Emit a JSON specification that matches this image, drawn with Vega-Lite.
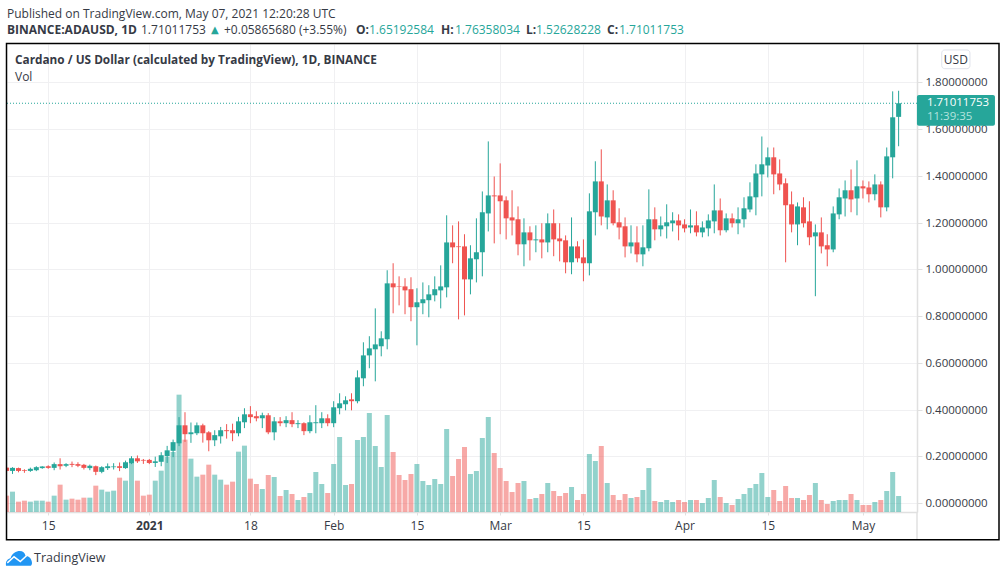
{
  "$schema": "https://vega.github.io/schema/vega-lite/v6.json",
  "autosize": {"type": "none"},
  "padding": {"left": 7, "top": 44, "right": 89, "bottom": 65},
  "width": 910,
  "height": 468,
  "background": "#ffffff",
  "title": {"text": "Published on TradingView.com, May 07, 2021 12:20:28 UTC", "anchor": "start", "frame": "group", "offset": 3, "fontSize": 12, "fontWeight": "normal", "font": "Open Sans", "color": "#363a45"},
  "datasets": {
    "candles": [
      {"date":"2020-12-08","open":0.152,"high":0.155,"low":0.135,"close":0.138,"vol":49},
      {"date":"2020-12-09","open":0.138,"high":0.154,"low":0.125,"close":0.151,"vol":61},
      {"date":"2020-12-10","open":0.150,"high":0.152,"low":0.132,"close":0.138,"vol":31},
      {"date":"2020-12-11","open":0.141,"high":0.145,"low":0.130,"close":0.138,"vol":34},
      {"date":"2020-12-12","open":0.138,"high":0.152,"low":0.134,"close":0.147,"vol":31},
      {"date":"2020-12-13","open":0.141,"high":0.158,"low":0.137,"close":0.154,"vol":34},
      {"date":"2020-12-14","open":0.150,"high":0.158,"low":0.147,"close":0.157,"vol":34},
      {"date":"2020-12-15","open":0.158,"high":0.162,"low":0.147,"close":0.151,"vol":31},
      {"date":"2020-12-16","open":0.151,"high":0.174,"low":0.141,"close":0.167,"vol":49},
      {"date":"2020-12-17","open":0.167,"high":0.192,"low":0.144,"close":0.158,"vol":82},
      {"date":"2020-12-18","open":0.160,"high":0.171,"low":0.154,"close":0.167,"vol":37},
      {"date":"2020-12-19","open":0.168,"high":0.178,"low":0.154,"close":0.164,"vol":40},
      {"date":"2020-12-20","open":0.167,"high":0.175,"low":0.154,"close":0.160,"vol":37},
      {"date":"2020-12-21","open":0.164,"high":0.168,"low":0.144,"close":0.151,"vol":43},
      {"date":"2020-12-22","open":0.150,"high":0.165,"low":0.141,"close":0.160,"vol":43},
      {"date":"2020-12-23","open":0.158,"high":0.161,"low":0.120,"close":0.134,"vol":79},
      {"date":"2020-12-24","open":0.134,"high":0.158,"low":0.128,"close":0.154,"vol":67},
      {"date":"2020-12-25","open":0.150,"high":0.170,"low":0.142,"close":0.158,"vol":61},
      {"date":"2020-12-26","open":0.154,"high":0.171,"low":0.144,"close":0.157,"vol":64},
      {"date":"2020-12-27","open":0.158,"high":0.174,"low":0.137,"close":0.151,"vol":103},
      {"date":"2020-12-28","open":0.150,"high":0.182,"low":0.147,"close":0.175,"vol":94},
      {"date":"2020-12-29","open":0.171,"high":0.201,"low":0.167,"close":0.192,"vol":147},
      {"date":"2020-12-30","open":0.192,"high":0.204,"low":0.172,"close":0.179,"vol":94},
      {"date":"2020-12-31","open":0.185,"high":0.189,"low":0.168,"close":0.182,"vol":49},
      {"date":"2021-01-01","open":0.185,"high":0.189,"low":0.167,"close":0.172,"vol":52},
      {"date":"2021-01-02","open":0.172,"high":0.199,"low":0.155,"close":0.179,"vol":94},
      {"date":"2021-01-03","open":0.177,"high":0.218,"low":0.158,"close":0.205,"vol":124},
      {"date":"2021-01-04","open":0.201,"high":0.245,"low":0.172,"close":0.226,"vol":165},
      {"date":"2021-01-05","open":0.224,"high":0.272,"low":0.197,"close":0.261,"vol":180},
      {"date":"2021-01-06","open":0.256,"high":0.368,"low":0.244,"close":0.333,"vol":352},
      {"date":"2021-01-07","open":0.333,"high":0.389,"low":0.262,"close":0.295,"vol":217},
      {"date":"2021-01-08","open":0.295,"high":0.345,"low":0.258,"close":0.303,"vol":160},
      {"date":"2021-01-09","open":0.299,"high":0.345,"low":0.291,"close":0.333,"vol":106},
      {"date":"2021-01-10","open":0.333,"high":0.340,"low":0.259,"close":0.299,"vol":112},
      {"date":"2021-01-11","open":0.303,"high":0.308,"low":0.222,"close":0.269,"vol":142},
      {"date":"2021-01-12","open":0.269,"high":0.312,"low":0.244,"close":0.291,"vol":112},
      {"date":"2021-01-13","open":0.286,"high":0.326,"low":0.255,"close":0.312,"vol":97},
      {"date":"2021-01-14","open":0.312,"high":0.338,"low":0.276,"close":0.308,"vol":82},
      {"date":"2021-01-15","open":0.312,"high":0.340,"low":0.265,"close":0.299,"vol":91},
      {"date":"2021-01-16","open":0.299,"high":0.369,"low":0.286,"close":0.350,"vol":181},
      {"date":"2021-01-17","open":0.346,"high":0.406,"low":0.321,"close":0.380,"vol":199},
      {"date":"2021-01-18","open":0.380,"high":0.415,"low":0.342,"close":0.368,"vol":100},
      {"date":"2021-01-19","open":0.372,"high":0.393,"low":0.350,"close":0.363,"vol":84},
      {"date":"2021-01-20","open":0.363,"high":0.387,"low":0.321,"close":0.376,"vol":69},
      {"date":"2021-01-21","open":0.376,"high":0.385,"low":0.295,"close":0.303,"vol":111},
      {"date":"2021-01-22","open":0.303,"high":0.368,"low":0.269,"close":0.350,"vol":105},
      {"date":"2021-01-23","open":0.350,"high":0.368,"low":0.329,"close":0.342,"vol":48},
      {"date":"2021-01-24","open":0.342,"high":0.372,"low":0.325,"close":0.355,"vol":66},
      {"date":"2021-01-25","open":0.355,"high":0.389,"low":0.325,"close":0.338,"vol":54},
      {"date":"2021-01-26","open":0.338,"high":0.355,"low":0.321,"close":0.342,"vol":36},
      {"date":"2021-01-27","open":0.342,"high":0.346,"low":0.291,"close":0.308,"vol":45},
      {"date":"2021-01-28","open":0.308,"high":0.376,"low":0.299,"close":0.346,"vol":57},
      {"date":"2021-01-29","open":0.342,"high":0.419,"low":0.299,"close":0.346,"vol":120},
      {"date":"2021-01-30","open":0.342,"high":0.389,"low":0.321,"close":0.363,"vol":84},
      {"date":"2021-01-31","open":0.363,"high":0.380,"low":0.329,"close":0.342,"vol":57},
      {"date":"2021-02-01","open":0.342,"high":0.436,"low":0.325,"close":0.410,"vol":144},
      {"date":"2021-02-02","open":0.406,"high":0.470,"low":0.380,"close":0.427,"vol":225},
      {"date":"2021-02-03","open":0.423,"high":0.457,"low":0.397,"close":0.440,"vol":81},
      {"date":"2021-02-04","open":0.444,"high":0.470,"low":0.397,"close":0.436,"vol":84},
      {"date":"2021-02-05","open":0.436,"high":0.568,"low":0.427,"close":0.538,"vol":216},
      {"date":"2021-02-06","open":0.534,"high":0.688,"low":0.500,"close":0.632,"vol":225},
      {"date":"2021-02-07","open":0.632,"high":0.714,"low":0.577,"close":0.662,"vol":297},
      {"date":"2021-02-08","open":0.658,"high":0.833,"low":0.521,"close":0.679,"vol":198},
      {"date":"2021-02-09","open":0.671,"high":0.735,"low":0.628,"close":0.705,"vol":135},
      {"date":"2021-02-10","open":0.701,"high":0.996,"low":0.658,"close":0.940,"vol":291},
      {"date":"2021-02-11","open":0.940,"high":1.026,"low":0.812,"close":0.923,"vol":180},
      {"date":"2021-02-12","open":0.927,"high":0.970,"low":0.846,"close":0.925,"vol":111},
      {"date":"2021-02-13","open":0.927,"high":0.962,"low":0.808,"close":0.910,"vol":96},
      {"date":"2021-02-14","open":0.915,"high":0.966,"low":0.778,"close":0.838,"vol":114},
      {"date":"2021-02-15","open":0.838,"high":0.919,"low":0.675,"close":0.859,"vol":144},
      {"date":"2021-02-16","open":0.855,"high":0.944,"low":0.808,"close":0.872,"vol":93},
      {"date":"2021-02-17","open":0.868,"high":0.932,"low":0.795,"close":0.893,"vol":81},
      {"date":"2021-02-18","open":0.889,"high":0.970,"low":0.863,"close":0.915,"vol":99},
      {"date":"2021-02-19","open":0.910,"high":1.017,"low":0.833,"close":0.927,"vol":84},
      {"date":"2021-02-20","open":0.923,"high":1.231,"low":0.880,"close":1.115,"vol":249},
      {"date":"2021-02-21","open":1.115,"high":1.188,"low":1.026,"close":1.094,"vol":108},
      {"date":"2021-02-22","open":1.098,"high":1.205,"low":0.786,"close":1.095,"vol":159},
      {"date":"2021-02-23","open":1.098,"high":1.150,"low":0.803,"close":0.957,"vol":195},
      {"date":"2021-02-24","open":0.957,"high":1.103,"low":0.893,"close":1.047,"vol":114},
      {"date":"2021-02-25","open":1.043,"high":1.218,"low":0.944,"close":1.073,"vol":123},
      {"date":"2021-02-26","open":1.073,"high":1.333,"low":0.970,"close":1.244,"vol":222},
      {"date":"2021-02-27","open":1.239,"high":1.547,"low":1.162,"close":1.316,"vol":285},
      {"date":"2021-02-28","open":1.316,"high":1.397,"low":1.111,"close":1.312,"vol":177},
      {"date":"2021-03-01","open":1.316,"high":1.453,"low":1.150,"close":1.291,"vol":132},
      {"date":"2021-03-02","open":1.295,"high":1.312,"low":1.128,"close":1.218,"vol":93},
      {"date":"2021-03-03","open":1.222,"high":1.338,"low":1.145,"close":1.209,"vol":60},
      {"date":"2021-03-04","open":1.214,"high":1.269,"low":1.060,"close":1.107,"vol":87},
      {"date":"2021-03-05","open":1.107,"high":1.218,"low":1.013,"close":1.158,"vol":93},
      {"date":"2021-03-06","open":1.158,"high":1.184,"low":1.038,"close":1.124,"vol":39},
      {"date":"2021-03-07","open":1.124,"high":1.188,"low":1.073,"close":1.128,"vol":42},
      {"date":"2021-03-08","open":1.128,"high":1.197,"low":1.047,"close":1.115,"vol":54},
      {"date":"2021-03-09","open":1.115,"high":1.239,"low":1.073,"close":1.197,"vol":87},
      {"date":"2021-03-10","open":1.197,"high":1.256,"low":1.056,"close":1.128,"vol":63},
      {"date":"2021-03-11","open":1.132,"high":1.197,"low":1.034,"close":1.120,"vol":48},
      {"date":"2021-03-12","open":1.124,"high":1.145,"low":0.983,"close":1.030,"vol":57},
      {"date":"2021-03-13","open":1.030,"high":1.222,"low":0.979,"close":1.098,"vol":75},
      {"date":"2021-03-14","open":1.098,"high":1.120,"low":1.030,"close":1.047,"vol":36},
      {"date":"2021-03-15","open":1.051,"high":1.128,"low":0.949,"close":1.026,"vol":54},
      {"date":"2021-03-16","open":1.026,"high":1.325,"low":0.974,"close":1.248,"vol":174},
      {"date":"2021-03-17","open":1.244,"high":1.462,"low":1.145,"close":1.376,"vol":153},
      {"date":"2021-03-18","open":1.376,"high":1.513,"low":1.188,"close":1.226,"vol":198},
      {"date":"2021-03-19","open":1.222,"high":1.363,"low":1.171,"close":1.295,"vol":87},
      {"date":"2021-03-20","open":1.295,"high":1.338,"low":1.188,"close":1.197,"vol":51},
      {"date":"2021-03-21","open":1.201,"high":1.261,"low":1.128,"close":1.179,"vol":36},
      {"date":"2021-03-22","open":1.184,"high":1.222,"low":1.051,"close":1.098,"vol":54},
      {"date":"2021-03-23","open":1.098,"high":1.188,"low":1.068,"close":1.115,"vol":42},
      {"date":"2021-03-24","open":1.115,"high":1.184,"low":1.030,"close":1.064,"vol":45},
      {"date":"2021-03-25","open":1.064,"high":1.188,"low":1.013,"close":1.094,"vol":66},
      {"date":"2021-03-26","open":1.090,"high":1.342,"low":1.077,"close":1.214,"vol":132},
      {"date":"2021-03-27","open":1.214,"high":1.265,"low":1.124,"close":1.171,"vol":33},
      {"date":"2021-03-28","open":1.171,"high":1.226,"low":1.141,"close":1.188,"vol":30},
      {"date":"2021-03-29","open":1.184,"high":1.278,"low":1.132,"close":1.201,"vol":36},
      {"date":"2021-03-30","open":1.197,"high":1.244,"low":1.162,"close":1.209,"vol":30},
      {"date":"2021-03-31","open":1.209,"high":1.235,"low":1.124,"close":1.188,"vol":36},
      {"date":"2021-04-01","open":1.192,"high":1.214,"low":1.158,"close":1.175,"vol":30},
      {"date":"2021-04-02","open":1.179,"high":1.256,"low":1.154,"close":1.188,"vol":36},
      {"date":"2021-04-03","open":1.188,"high":1.248,"low":1.141,"close":1.158,"vol":36},
      {"date":"2021-04-04","open":1.158,"high":1.205,"low":1.137,"close":1.179,"vol":27},
      {"date":"2021-04-05","open":1.175,"high":1.235,"low":1.141,"close":1.209,"vol":42},
      {"date":"2021-04-06","open":1.205,"high":1.363,"low":1.154,"close":1.252,"vol":96},
      {"date":"2021-04-07","open":1.252,"high":1.303,"low":1.145,"close":1.167,"vol":45},
      {"date":"2021-04-08","open":1.167,"high":1.239,"low":1.158,"close":1.218,"vol":27},
      {"date":"2021-04-09","open":1.218,"high":1.239,"low":1.179,"close":1.197,"vol":21},
      {"date":"2021-04-10","open":1.197,"high":1.265,"low":1.150,"close":1.214,"vol":39},
      {"date":"2021-04-11","open":1.214,"high":1.308,"low":1.179,"close":1.261,"vol":54},
      {"date":"2021-04-12","open":1.256,"high":1.372,"low":1.244,"close":1.312,"vol":72},
      {"date":"2021-04-13","open":1.308,"high":1.449,"low":1.231,"close":1.410,"vol":84},
      {"date":"2021-04-14","open":1.406,"high":1.568,"low":1.312,"close":1.449,"vol":117},
      {"date":"2021-04-15","open":1.444,"high":1.521,"low":1.393,"close":1.479,"vol":45},
      {"date":"2021-04-16","open":1.479,"high":1.521,"low":1.321,"close":1.406,"vol":66},
      {"date":"2021-04-17","open":1.410,"high":1.470,"low":1.338,"close":1.363,"vol":33},
      {"date":"2021-04-18","open":1.368,"high":1.389,"low":1.030,"close":1.274,"vol":78},
      {"date":"2021-04-19","open":1.278,"high":1.333,"low":1.158,"close":1.192,"vol":42},
      {"date":"2021-04-20","open":1.192,"high":1.286,"low":1.103,"close":1.269,"vol":42},
      {"date":"2021-04-21","open":1.265,"high":1.308,"low":1.179,"close":1.197,"vol":36},
      {"date":"2021-04-22","open":1.205,"high":1.291,"low":1.103,"close":1.137,"vol":51},
      {"date":"2021-04-23","open":1.141,"high":1.192,"low":0.885,"close":1.158,"vol":87},
      {"date":"2021-04-24","open":1.158,"high":1.222,"low":1.068,"close":1.098,"vol":36},
      {"date":"2021-04-25","open":1.103,"high":1.150,"low":1.013,"close":1.085,"vol":24},
      {"date":"2021-04-26","open":1.085,"high":1.269,"low":1.073,"close":1.239,"vol":33},
      {"date":"2021-04-27","open":1.235,"high":1.346,"low":1.214,"close":1.308,"vol":36},
      {"date":"2021-04-28","open":1.303,"high":1.380,"low":1.226,"close":1.338,"vol":36},
      {"date":"2021-04-29","open":1.338,"high":1.427,"low":1.244,"close":1.299,"vol":54},
      {"date":"2021-04-30","open":1.303,"high":1.466,"low":1.231,"close":1.355,"vol":36},
      {"date":"2021-05-01","open":1.355,"high":1.380,"low":1.303,"close":1.346,"vol":21},
      {"date":"2021-05-02","open":1.350,"high":1.376,"low":1.286,"close":1.321,"vol":21},
      {"date":"2021-05-03","open":1.321,"high":1.406,"low":1.295,"close":1.363,"vol":30},
      {"date":"2021-05-04","open":1.363,"high":1.376,"low":1.222,"close":1.265,"vol":36},
      {"date":"2021-05-05","open":1.265,"high":1.521,"low":1.248,"close":1.483,"vol":63},
      {"date":"2021-05-06","open":1.479,"high":1.761,"low":1.389,"close":1.650,"vol":120},
      {"date":"2021-05-07","open":1.65192584,"high":1.76358034,"low":1.52628228,"close":1.71011753,"vol":48}
    ]
  },
  "layer": [
    {
      "data": {"name": "candles"},
      "mark": {"type": "bar", "size": 5, "opacity": 0.5, "clip": true},
      "encoding": {
        "x": {
          "field": "date", "type": "temporal",
          "scale": {"type": "utc", "domain": [1607391648000, 1620612576000], "padding": 0},
          "title": null,
          "axis": {
            "values": [1607990400000, 1609459200000, 1610928000000, 1612137600000, 1613347200000, 1614556800000, 1615766400000, 1617235200000, 1618444800000, 1619827200000],
            "labelExpr": "utcdate(datum.value) == 1 ? (utcmonth(datum.value) == 0 ? '2021' : utcFormat(datum.value, '%b')) : utcFormat(datum.value, '%-d')",
            "labelFontWeight": {"condition": {"test": "utcmonth(datum.value) == 0 && utcdate(datum.value) == 1", "value": "bold"}, "value": "normal"},
            "labelFont": "Open Sans", "labelFontSize": 12, "labelColor": "#363a45", "labelPadding": 5, "labelFlush": false,
            "grid": true, "gridColor": "#f0f0f2", "gridWidth": 1,
            "domainColor": "#e0e0e0", "domainWidth": 1.5, "tickColor": "#e0e0e0", "tickSize": 3
          }
        },
        "y": {"field": "vol", "type": "quantitative", "scale": {"domain": [0, 1404], "nice": false, "zero": true}, "axis": null},
        "color": {"condition": {"test": "datum.close >= datum.open", "value": "#26a69a"}, "value": "#ef5350"}
      }
    },
    {
      "layer": [
        {
          "data": {"name": "candles"},
          "mark": {"type": "rule", "strokeWidth": 1, "clip": true},
          "encoding": {
            "x": {"field": "date", "type": "temporal"},
            "y": {
              "field": "low", "type": "quantitative",
              "scale": {"domain": [-0.0377, 1.9635], "nice": false, "zero": false},
              "title": null,
              "axis": {
                "orient": "right",
                "values": [0, 0.2, 0.4, 0.6, 0.8, 1, 1.2, 1.4, 1.6, 1.8],
                "format": ".8f",
                "labelFont": "Open Sans", "labelFontSize": 11.5, "labelColor": "#363a45", "labelPadding": 3, "labelOffset": 0.5,
                "grid": true, "gridColor": "#f0f0f2", "gridWidth": 1,
                "domainColor": "#e0e0e0", "domainWidth": 1.5, "tickColor": "#e0e0e0", "tickSize": 5
              }
            },
            "y2": {"field": "high"},
            "color": {"condition": {"test": "datum.close >= datum.open", "value": "#26a69a"}, "value": "#ef5350"}
          }
        },
        {
          "data": {"name": "candles"},
          "mark": {"type": "bar", "size": 5, "clip": true},
          "encoding": {
            "x": {"field": "date", "type": "temporal"},
            "y": {"field": "open", "type": "quantitative"},
            "y2": {"field": "close"},
            "color": {"condition": {"test": "datum.close >= datum.open", "value": "#26a69a"}, "value": "#ef5350"}
          }
        },
        {
          "data": {"values": [{"price": 1.71011753}]},
          "mark": {"type": "rule", "stroke": "#26a69a", "strokeWidth": 1, "strokeDash": [1, 2]},
          "encoding": {"y": {"field": "price", "type": "quantitative"}}
        },
        {
          "data": {"values": [{"item": "price axis line"}]},
          "mark": {"type": "rule", "stroke": "#e0e0e0", "strokeWidth": 1.5},
          "encoding": {
            "x": {"datum": 1620612576000, "type": "temporal"},
            "y": {"datum": -0.0377, "type": "quantitative"},
            "y2": {"datum": -0.1561}
          }
        },
        {
          "data": {"values": [{"item": "last price box"}]},
          "mark": {"type": "rect", "fill": "#26a69a", "cornerRadius": 2},
          "encoding": {
            "x": {"datum": 1620611712000, "type": "temporal"},
            "x2": {"datum": 1621745280000},
            "y": {"datum": 1.7456, "type": "quantitative"},
            "y2": {"datum": 1.6144}
          }
        },
        {
          "data": {"values": [{"item": "currency button"}]},
          "mark": {"type": "rect", "fill": "#ffffff", "stroke": "#e0e3eb", "strokeWidth": 1, "cornerRadius": 3},
          "encoding": {
            "x": {"datum": 1620972000000, "type": "temporal"},
            "x2": {"datum": 1621382000000},
            "y": {"datum": 1.938, "type": "quantitative"},
            "y2": {"datum": 1.858}
          }
        },
        {
          "data": {"values": [{"item": "frame"}]},
          "mark": {"type": "rect", "fill": null, "stroke": "#000000", "strokeWidth": 1.5},
          "encoding": {
            "x": {"datum": 1607384554000, "type": "temporal"},
            "x2": {"datum": 1621803925000},
            "y": {"datum": 1.9657, "type": "quantitative"},
            "y2": {"datum": -0.1561}
          }
        },
        {
          "data": {"values": [{"t": "USD"}]},
          "mark": {"type": "text", "align": "center", "baseline": "middle", "font": "Open Sans", "fontSize": 12, "color": "#363a45"},
          "encoding": {
            "x": {"datum": 1621177000000, "type": "temporal"},
            "y": {"datum": 1.896, "type": "quantitative"},
            "text": {"field": "t"}
          }
        },
        {
          "data": {"values": [{"t": "1.71011753"}]},
          "mark": {"type": "text", "align": "left", "baseline": "middle", "font": "Open Sans", "fontSize": 11.5, "color": "#ffffff", "dx": 10},
          "encoding": {
            "x": {"datum": 1620611712000, "type": "temporal"},
            "y": {"datum": 1.71, "type": "quantitative"},
            "text": {"field": "t"}
          }
        },
        {
          "data": {"values": [{"t": "11:39:35"}]},
          "mark": {"type": "text", "align": "left", "baseline": "middle", "font": "Open Sans", "fontSize": 11.5, "color": "#b5e3de", "dx": 10},
          "encoding": {
            "x": {"datum": 1620611712000, "type": "temporal"},
            "y": {"datum": 1.651, "type": "quantitative"},
            "text": {"field": "t"}
          }
        },
        {
          "data": {"values": [{"t": "Cardano / US Dollar (calculated by TradingView), 1D, BINANCE"}]},
          "mark": {"type": "text", "align": "left", "baseline": "middle", "font": "Open Sans", "fontSize": 11.8, "fontWeight": "bold", "color": "#363a45", "dx": 8},
          "encoding": {
            "x": {"datum": 1607391648000, "type": "temporal"},
            "y": {"datum": 1.893, "type": "quantitative"},
            "text": {"field": "t"}
          }
        },
        {
          "data": {"values": [{"t": "Vol"}]},
          "mark": {"type": "text", "align": "left", "baseline": "middle", "font": "Open Sans", "fontSize": 12, "color": "#363a45", "dx": 8},
          "encoding": {
            "x": {"datum": 1607391648000, "type": "temporal"},
            "y": {"datum": 1.821, "type": "quantitative"},
            "text": {"field": "t"}
          }
        },
        {
          "data": {"values": [{"t": "BINANCE:ADAUSD, 1D"}]},
          "mark": {"type": "text", "align": "left", "baseline": "middle", "font": "Open Sans", "fontSize": 12, "fontWeight": "bold", "color": "#363a45", "dx": 0},
          "encoding": {"x": {"datum": 1607391648000, "type": "temporal"}, "y": {"datum": 2.0226, "type": "quantitative"}, "text": {"field": "t"}}
        },
        {
          "data": {"values": [{"t": "1.71011753"}]},
          "mark": {"type": "text", "align": "left", "baseline": "middle", "font": "Open Sans", "fontSize": 12, "color": "#363a45", "dx": 134},
          "encoding": {"x": {"datum": 1607391648000, "type": "temporal"}, "y": {"datum": 2.0226, "type": "quantitative"}, "text": {"field": "t"}}
        },
        {
          "data": {"values": [{"t": "▲"}]},
          "mark": {"type": "text", "align": "left", "baseline": "middle", "font": "DejaVu Sans", "fontSize": 10, "color": "#26a69a", "dx": 204},
          "encoding": {"x": {"datum": 1607391648000, "type": "temporal"}, "y": {"datum": 2.0226, "type": "quantitative"}, "text": {"field": "t"}}
        },
        {
          "data": {"values": [{"t": "+0.05865680 (+3.55%)"}]},
          "mark": {"type": "text", "align": "left", "baseline": "middle", "font": "Open Sans", "fontSize": 12, "color": "#363a45", "dx": 217},
          "encoding": {"x": {"datum": 1607391648000, "type": "temporal"}, "y": {"datum": 2.0226, "type": "quantitative"}, "text": {"field": "t"}}
        },
        {
          "data": {"values": [{"t": "O:"}]},
          "mark": {"type": "text", "align": "left", "baseline": "middle", "font": "Open Sans", "fontSize": 12, "fontWeight": "bold", "color": "#363a45", "dx": 349},
          "encoding": {"x": {"datum": 1607391648000, "type": "temporal"}, "y": {"datum": 2.0226, "type": "quantitative"}, "text": {"field": "t"}}
        },
        {
          "data": {"values": [{"t": "1.65192584"}]},
          "mark": {"type": "text", "align": "left", "baseline": "middle", "font": "Open Sans", "fontSize": 12, "color": "#26a69a", "dx": 362},
          "encoding": {"x": {"datum": 1607391648000, "type": "temporal"}, "y": {"datum": 2.0226, "type": "quantitative"}, "text": {"field": "t"}}
        },
        {
          "data": {"values": [{"t": "H:"}]},
          "mark": {"type": "text", "align": "left", "baseline": "middle", "font": "Open Sans", "fontSize": 12, "fontWeight": "bold", "color": "#363a45", "dx": 434},
          "encoding": {"x": {"datum": 1607391648000, "type": "temporal"}, "y": {"datum": 2.0226, "type": "quantitative"}, "text": {"field": "t"}}
        },
        {
          "data": {"values": [{"t": "1.76358034"}]},
          "mark": {"type": "text", "align": "left", "baseline": "middle", "font": "Open Sans", "fontSize": 12, "color": "#26a69a", "dx": 448},
          "encoding": {"x": {"datum": 1607391648000, "type": "temporal"}, "y": {"datum": 2.0226, "type": "quantitative"}, "text": {"field": "t"}}
        },
        {
          "data": {"values": [{"t": "L:"}]},
          "mark": {"type": "text", "align": "left", "baseline": "middle", "font": "Open Sans", "fontSize": 12, "fontWeight": "bold", "color": "#363a45", "dx": 519},
          "encoding": {"x": {"datum": 1607391648000, "type": "temporal"}, "y": {"datum": 2.0226, "type": "quantitative"}, "text": {"field": "t"}}
        },
        {
          "data": {"values": [{"t": "1.52628228"}]},
          "mark": {"type": "text", "align": "left", "baseline": "middle", "font": "Open Sans", "fontSize": 12, "color": "#26a69a", "dx": 529},
          "encoding": {"x": {"datum": 1607391648000, "type": "temporal"}, "y": {"datum": 2.0226, "type": "quantitative"}, "text": {"field": "t"}}
        },
        {
          "data": {"values": [{"t": "C:"}]},
          "mark": {"type": "text", "align": "left", "baseline": "middle", "font": "Open Sans", "fontSize": 12, "fontWeight": "bold", "color": "#363a45", "dx": 600},
          "encoding": {"x": {"datum": 1607391648000, "type": "temporal"}, "y": {"datum": 2.0226, "type": "quantitative"}, "text": {"field": "t"}}
        },
        {
          "data": {"values": [{"t": "1.71011753"}]},
          "mark": {"type": "text", "align": "left", "baseline": "middle", "font": "Open Sans", "fontSize": 12, "color": "#26a69a", "dx": 612},
          "encoding": {"x": {"datum": 1607391648000, "type": "temporal"}, "y": {"datum": 2.0226, "type": "quantitative"}, "text": {"field": "t"}}
        },
        {
          "data": {"values": [{"item": "logo"}]},
          "mark": {"type": "point", "filled": true, "fill": "#2196f3", "stroke": null, "opacity": 1, "size": 676, "shape": "M-1 .56 C-1.05 .2 -.85 .05 -.65 0 C-.55 -.4 -.2 -.56 .05 -.56 C.3 -.56 .45 -.4 .5 -.2 C.8 -.2 1 .1 1 .35 C1 .45 .95 .56 .9 .56 Z"},
          "encoding": {"x": {"datum": 1607391648000, "type": "temporal"}, "y": {"datum": -0.2359, "type": "quantitative"}, "xOffset": {"value": 12}}
        },
        {
          "data": {"values": [{"item": "logo line"}]},
          "mark": {"type": "point", "filled": false, "fill": null, "stroke": "#ffffff", "strokeWidth": 1.5, "opacity": 1, "size": 676, "shape": "M-.9 .35 L-.38 -.12 L.1 .25 L.6 -.22"},
          "encoding": {"x": {"datum": 1607391648000, "type": "temporal"}, "y": {"datum": -0.2359, "type": "quantitative"}, "xOffset": {"value": 12}}
        },
        {
          "data": {"values": [{"t": "TradingView"}]},
          "mark": {"type": "text", "align": "left", "baseline": "middle", "font": "Open Sans", "fontSize": 12.5, "color": "#363a45", "dx": 27},
          "encoding": {"x": {"datum": 1607391648000, "type": "temporal"}, "y": {"datum": -0.2359, "type": "quantitative"}, "text": {"field": "t"}}
        }
      ]
    }
  ],
  "resolve": {"scale": {"y": "independent"}},
  "config": {"view": {"stroke": null}, "axis": {"labelOverlap": false}}
}
